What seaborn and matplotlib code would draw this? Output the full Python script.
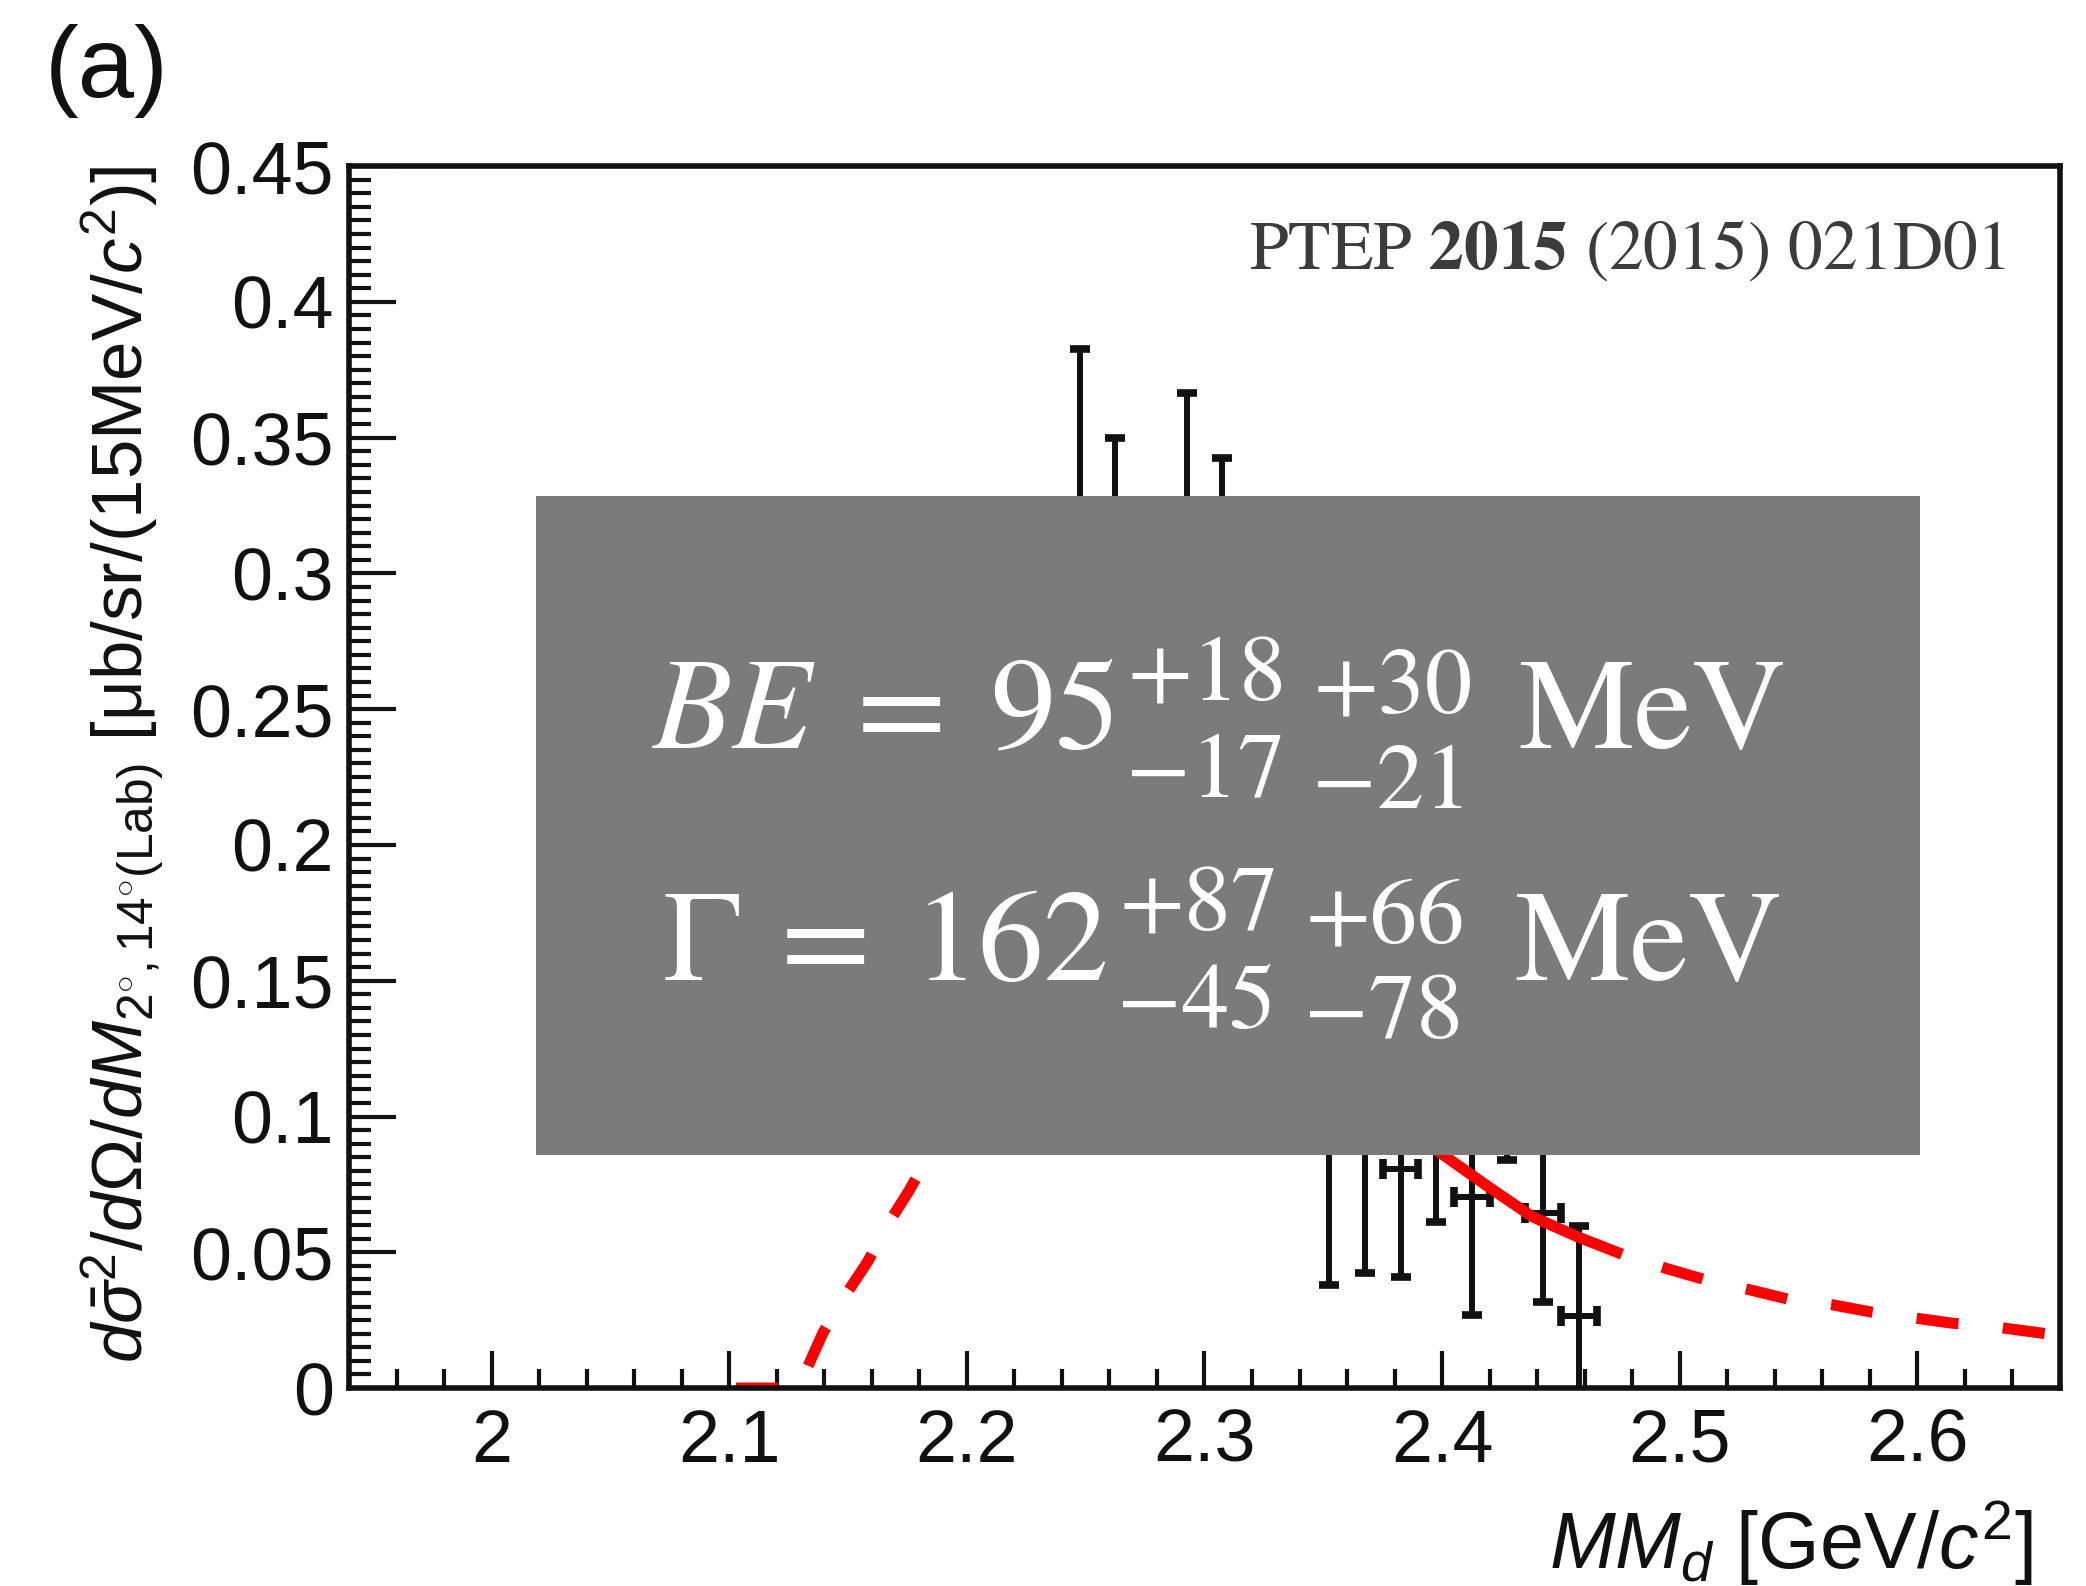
import matplotlib
matplotlib.use("Agg")
import matplotlib.pyplot as plt
import matplotlib.ticker as mticker
from matplotlib.patches import Rectangle
import pandas as pd
import seaborn as sns

# Missing-mass spectrum in 15 MeV bins
bin_centers = [2.2475, 2.2625, 2.2775, 2.2925, 2.3075, 2.3225, 2.3375, 2.3525,
               2.3675, 2.3825, 2.3975, 2.4125, 2.4275, 2.4425, 2.4575]
cross_section = [0.250, 0.230, 0.215, 0.245, 0.225, 0.200, 0.175, 0.140,
                 0.130, 0.0807, 0.120, 0.0705, 0.130, 0.0645, 0.0265]
stat_error = [0.1325, 0.120, 0.090, 0.1215, 0.1176, 0.085, 0.075, 0.102,
              0.0876, 0.0397, 0.0587, 0.0436, 0.046, 0.0327, 0.0332]
bin_half_width = 0.0075

# Fitted spectral function
fit_mass = [2.1028, 2.129, 2.1324, 2.1395, 2.1489, 2.1583, 2.1668, 2.1757,
            2.19, 2.20, 2.21, 2.23, 2.25, 2.27, 2.29, 2.31, 2.33, 2.35, 2.37,
            2.385, 2.4004, 2.42, 2.438, 2.457, 2.4757, 2.4949, 2.5115, 2.5289,
            2.5454, 2.5641, 2.5806, 2.598, 2.6147, 2.633, 2.6569, 2.66]
fit_value = [0.0, 0.0, 0.0066, 0.0204, 0.0342, 0.0466, 0.0604, 0.0727,
             0.095, 0.113, 0.130, 0.153, 0.165, 0.168, 0.163, 0.152, 0.138,
             0.122, 0.107, 0.096, 0.0859, 0.0738, 0.0631, 0.0557, 0.0493,
             0.0439, 0.0397, 0.0363, 0.0328, 0.0307, 0.0280, 0.0259, 0.0239,
             0.0225, 0.0197, 0.0194]
fit_range = (2.20, 2.4757)

# Fit results (MeV): value, (+stat, -stat), (+syst, -syst)
be_value, be_stat, be_syst = 95, (18, 17), (30, 21)
gamma_value, gamma_stat, gamma_syst = 162, (87, 45), (66, 78)

x_ticks = [2.0, 2.1, 2.2, 2.3, 2.4, 2.5, 2.6]
y_ticks = [0.0, 0.05, 0.1, 0.15, 0.2, 0.25, 0.3, 0.35, 0.4, 0.45]

data = pd.DataFrame({"mass": bin_centers, "xs": cross_section, "err": stat_error})
fit = pd.DataFrame({"mass": fit_mass, "value": fit_value})

sns.set_theme(style="white")
plt.rcParams["font.family"] = ["Liberation Sans", "DejaVu Sans"]
plt.rcParams["mathtext.fontset"] = "custom"
plt.rcParams["mathtext.rm"] = "Liberation Sans"
plt.rcParams["mathtext.it"] = "Liberation Sans:italic"
plt.rcParams["mathtext.bf"] = "Liberation Sans:bold"
plt.rcParams["mathtext.fallback"] = "cm"

W, H = 2086, 1586
fig = plt.figure(figsize=(W / 100, H / 100), dpi=100)
fig.patch.set_facecolor("white")
ax = fig.add_axes([0.1673, 0.1248, 0.8202, 0.7705])
ax.set_facecolor("white")

ink = "#111111"
red = "#ff0000"

# data with statistical errors and bin widths
ax.errorbar(data["mass"], data["xs"], yerr=data["err"], xerr=bin_half_width,
            fmt="none", ecolor=ink, elinewidth=4.3, capsize=7, capthick=5.5,
            zorder=3)

# fit: solid inside the fit range, dashed extrapolation outside
lo = fit[fit["mass"] <= fit_range[0]]
mid = fit[(fit["mass"] >= fit_range[0]) & (fit["mass"] <= fit_range[1])]
hi = fit[fit["mass"] >= fit_range[1]]
sns.lineplot(data=lo, x="mass", y="value", ax=ax, color=red, lw=8,
             linestyle=(0, (3.8, 4.0)), dash_capstyle="butt", zorder=4)
sns.lineplot(data=mid, x="mass", y="value", ax=ax, color=red, lw=8,
             solid_capstyle="butt", zorder=4)
sns.lineplot(data=hi, x="mass", y="value", ax=ax, color=red, lw=8,
             linestyle=(4.0, (3.8, 4.0)), dash_capstyle="butt", zorder=4)

ax.set_xlim(1.94, 2.66)
ax.set_ylim(0, 0.45)

ax.set_xticks(x_ticks)
ax.set_yticks(y_ticks)
ax.xaxis.set_minor_locator(mticker.MultipleLocator(0.02))
ax.yaxis.set_minor_locator(mticker.MultipleLocator(0.005))
fmt = mticker.FuncFormatter(lambda v, p: f"{round(v, 3):g}")
ax.xaxis.set_major_formatter(fmt)
ax.yaxis.set_major_formatter(fmt)

ax.tick_params(axis="both", which="both", direction="in", bottom=True,
               left=True, top=False, right=False, color=ink, labelcolor=ink)
ax.tick_params(axis="x", which="major", length=27, width=3, pad=14, labelsize=53)
ax.tick_params(axis="x", which="minor", length=13.5, width=3)
ax.tick_params(axis="y", which="major", length=34, width=3, pad=11, labelsize=53)
ax.tick_params(axis="y", which="minor", length=16, width=3)

for s in ax.spines.values():
    s.set_color(ink)
    s.set_linewidth(4)
    s.set_zorder(6)

ax.set_xlabel(r"$MM_{d}$ [GeV/$c^{2}$]", fontsize=57, color=ink, loc="right")
ax.xaxis.set_label_coords(0.984, -0.090)
ax.set_ylabel(r"$d\bar{\sigma}^{2}/d\Omega/dM_{2^{\circ},14^{\circ}(\mathrm{Lab})}$ [μb/sr/(15MeV/$c^{2}$)]",
              fontsize=51, color=ink, loc="top")
ax.yaxis.set_label_coords(-0.107, 1.0)

# result panel
ax.add_patch(Rectangle((0.1093, 0.1907), 0.8089, 0.5393, transform=ax.transAxes,
                       facecolor="#7b7b7b", edgecolor="none", zorder=8,
                       clip_on=False))


def put(s, x_px, y_px, size, **kw):
    """Place white serif text with its left edge / baseline at pixel (x, y) from top-left."""
    fig.text(x_px / W, 1 - y_px / H, s, fontsize=size, color="white",
             family="STIXGeneral", ha="left", va="baseline", zorder=9, **kw)


main_pt, script_pt = 94, 68

# binding energy line
put("BE", 652, 748, main_pt, style="italic")
put("=", 857, 748, main_pt)
put(f"{be_value}", 990, 748, main_pt)
put(f"+{be_stat[0]}", 1128, 700, script_pt)
put(f"\u2212{be_stat[1]}", 1126, 797, script_pt)
put(f"+{be_syst[0]}", 1314, 712, script_pt)
put(f"\u2212{be_syst[1]}", 1312, 808, script_pt)
put("MeV", 1518, 748, main_pt)

# width line
put("\u0393", 664, 980, main_pt)
put("=", 781, 980, main_pt)
put(f"{gamma_value}", 914, 980, main_pt)
put(f"+{gamma_stat[0]}", 1119, 930, script_pt)
put(f"\u2212{gamma_stat[1]}", 1117, 1028, script_pt)
put(f"+{gamma_syst[0]}", 1306, 942, script_pt)
put(f"\u2212{gamma_syst[1]}", 1304, 1038, script_pt)
put("MeV", 1514, 980, main_pt)

ax.text(0.9684, 0.9157, r"PTEP $\mathbf{2015}$ (2015) 021D01",
        transform=ax.transAxes, color="#3c3c3c", fontsize=50, ha="right",
        va="baseline", family="STIXGeneral", math_fontfamily="stix", zorder=9)

fig.text(0.0215, 0.985, "(a)", fontsize=73, ha="left", va="top", color=ink)

fig.savefig("out.png", dpi=100, facecolor="white")
